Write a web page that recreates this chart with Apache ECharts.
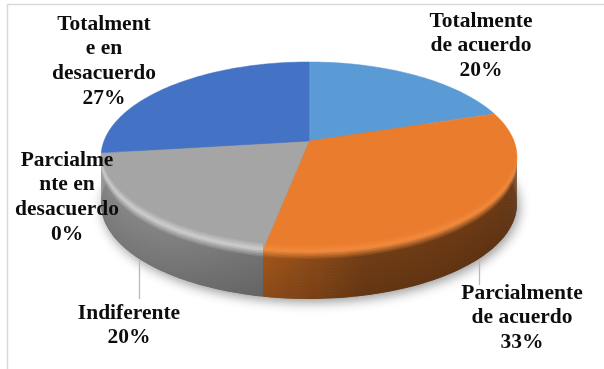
<!DOCTYPE html>
<html>
<head>
<meta charset="utf-8">
<style>html,body{margin:0;padding:0;background:#fff}#c{width:604px;height:369px;filter:blur(0.4px)}</style>
<script src="https://cdn.jsdelivr.net/npm/echarts@6/dist/echarts.min.js"></script>
</head>
<body>
<div id="c"></div>
<script>
var categories = ['Totalmente de acuerdo', 'Parcialmente de acuerdo', 'Indiferente', 'Parcialmente en desacuerdo', 'Totalmente en desacuerdo'];
var values = [20, 33, 20, 0, 27];
var labelLines = [['Totalmente', 'de acuerdo'], ['Parcialmente', 'de acuerdo'], ['Indiferente'], ['Parcialme', 'nte en', 'desacuerdo'], ['Totalment', 'e en', 'desacuerdo']];
var labelPos = [[481, 9], [522, 281], [129, 301], [67, 148], [104, 12]];
var topColors = ['#5b9bd5', '#ea7c2e', '#a5a5a5', '#ffc000', '#4472c4'];
var rimColors = ['#5b9bd5', '#f28a3c', '#cfcfcf', '#ffc000', '#4472c4'];
var sideColors = [null, ['#a0541a', '#703c14', '#693712'], ['#888888', '#828282', '#707070'], null, null];

// projection of the tilted disc
var ax = 309, ay = 141, A = 205, B = 92.3, K = 0.168, DEPTH = 47;
var FRONT0 = 99.7, FRONT1 = 260.3;
var total = values.reduce(function (s, v) { return s + v; }, 0);
var starts = [], acc = 0;
values.forEach(function (v) { starts.push(acc / total * 360); acc += v; });

function pt(deg, dy) {
  var r = deg * Math.PI / 180, X = Math.sin(r), Y = Math.cos(r), w = 1 + K * Y;
  return [ax + A * X / w, ay - B * Y / w + (dy || 0)];
}
function arc(a0, a1, dy) {
  var out = [], n = Math.max(2, Math.ceil((a1 - a0) / 1.5));
  for (var i = 0; i <= n; i++) out.push(pt(a0 + (a1 - a0) * i / n, dy));
  return out;
}
function hex(c) { return [1, 3, 5].map(function (i) { return parseInt(c.substr(i, 2), 16); }); }
function mix(a, b, t) {
  var p = hex(a), q = hex(b), o = [0, 1, 2].map(function (i) { return Math.round(p[i] + (q[i] - p[i]) * t); });
  return 'rgb(' + o.join(',') + ')';
}
function toHex(rgb) {
  var m = rgb.match(/\d+/g);
  return '#' + m.map(function (v) { return ('0' + (+v).toString(16)).slice(-2); }).join('');
}
function profile(d, topC, rimC, sideC) {
  if (d < -1) return mix(topC, rimC, (d + 8) / 7);
  if (d < 7) return mix(rimC, sideC, (d + 1) / 8);
  return mix(sideC, toHex(mix(sideC, '#000000', 0.12)), (d - 7) / 40);
}

function renderShadow(params, api) {
  var i = params.dataIndex, v = api.value(0);
  if (!v) return { type: 'group', children: [] };
  var pts = [[ax, ay + DEPTH]].concat(arc(starts[i], starts[i] + v / total * 360, DEPTH));
  return {
    type: 'polygon', shape: { points: pts },
    style: { fill: '#777777', shadowBlur: 12, shadowColor: 'rgba(0,0,0,0.42)', shadowOffsetY: 3, shadowOffsetX: 2 }
  };
}

function renderSlice(params, api) {
  var i = params.dataIndex, v = api.value(0), kids = [];
  var a0 = starts[i], a1 = a0 + v / total * 360;
  if (v > 0) {
    var f0 = Math.max(a0, FRONT0), f1 = Math.min(a1, FRONT1), sc = sideColors[i];
    kids.push({
      type: 'polygon', shape: { points: [[ax, ay]].concat(arc(a0, a1, 0)) },
      style: { fill: topColors[i], stroke: topColors[i], lineWidth: 0.5 }
    });
    if (sc && f1 > f0) {
      for (var d = -8; d < DEPTH; d += 1.5) {
        var upper = arc(f0, f1, d), lower = arc(f0, f1, Math.min(d + 2, DEPTH)).reverse();
        kids.push({
          type: 'polygon', shape: { points: upper.concat(lower) },
          style: {
            fill: {
              type: 'linear', x: 0, y: 0, x2: 1, y2: 0,
              colorStops: [
                { offset: 0, color: profile(d, topColors[i], rimColors[i], sc[0]) },
                { offset: 0.4, color: profile(d, topColors[i], rimColors[i], sc[1]) },
                { offset: 1, color: profile(d, topColors[i], rimColors[i], sc[2]) }
              ]
            }
          }
        });
      }
    }
  }
  return { type: 'group', children: kids };
}

function renderLabel(params, api) {
  var i = params.dataIndex, lines = labelLines[i].concat([api.value(0) + '%']);
  return {
    type: 'text',
    style: {
      text: lines.join('\n'), x: labelPos[i][0], y: labelPos[i][1],
      align: 'center', verticalAlign: 'top',
      font: 'bold 21.5px "Liberation Serif", serif', lineHeight: 24.6, fill: '#0d0d0d'
    }
  };
}

var chart = echarts.init(document.getElementById('c'), null, { renderer: 'canvas' });
chart.setOption({
  animation: false,
  backgroundColor: '#ffffff',
  graphic: [
    { type: 'polyline', z: 0, shape: { points: [[604, 4.5], [7.5, 4.5], [7.5, 369]] }, style: { stroke: '#d9d9d9', lineWidth: 1.5, fill: null } },
    { type: 'line', z: 9, shape: { x1: 139.5, y1: 259, x2: 139.5, y2: 299 }, style: { stroke: '#b8b8b8', lineWidth: 1.3 } },
    { type: 'line', z: 9, shape: { x1: 479.5, y1: 259, x2: 479.5, y2: 285 }, style: { stroke: '#b8b8b8', lineWidth: 1.3 } }
  ],
  series: [
    { type: 'custom', coordinateSystem: 'none', silent: true, z: 1, data: values, renderItem: renderShadow },
    { type: 'custom', coordinateSystem: 'none', silent: true, z: 2, data: values, renderItem: renderSlice },
    { type: 'custom', coordinateSystem: 'none', silent: true, z: 3, data: values, renderItem: renderLabel }
  ]
});
</script>
</body>
</html>
